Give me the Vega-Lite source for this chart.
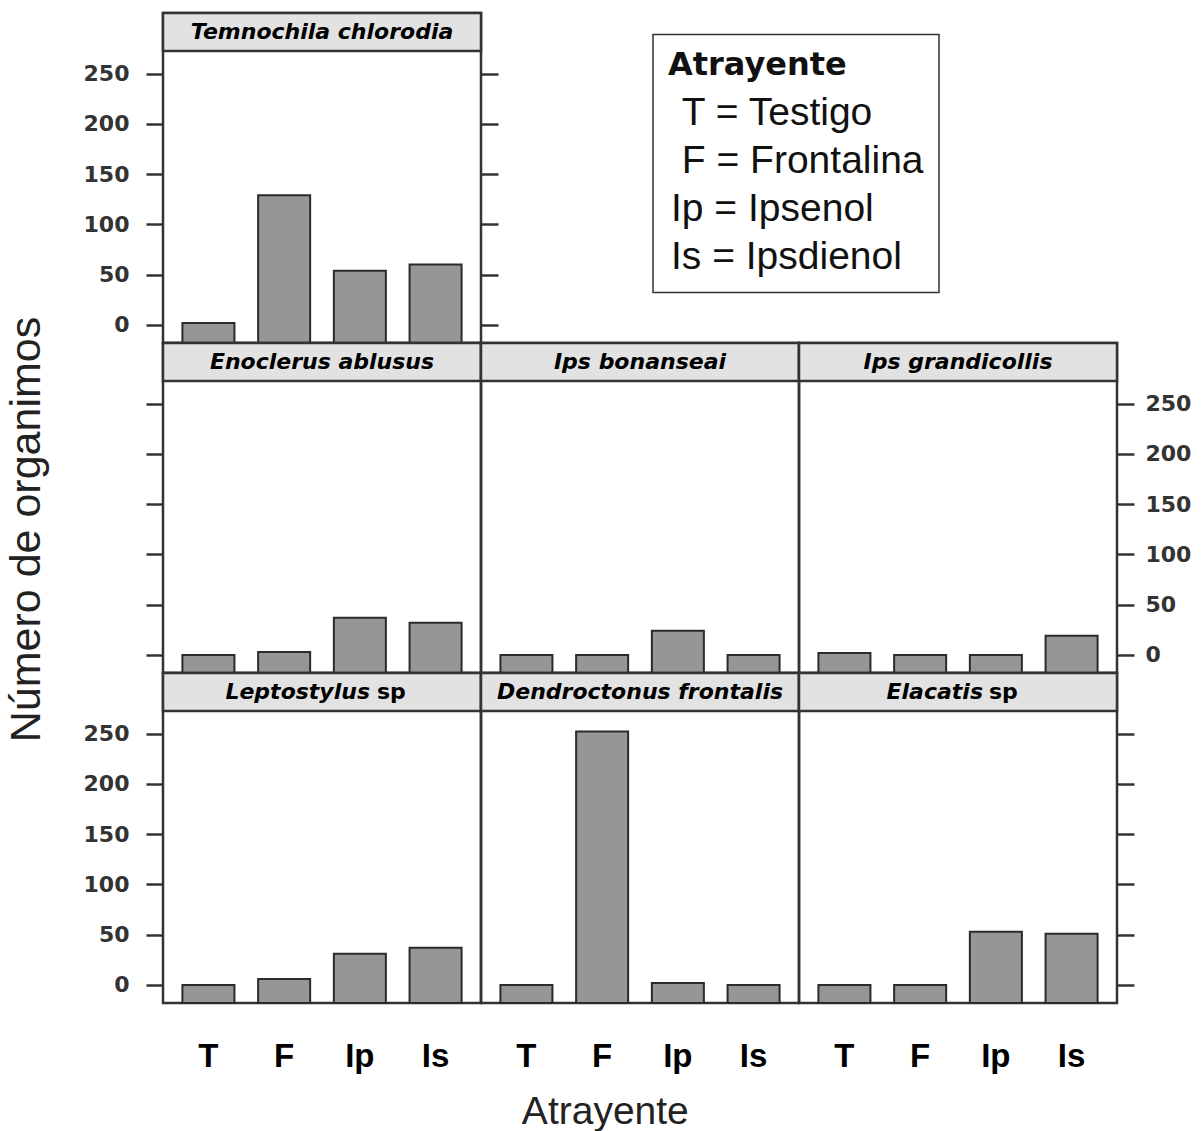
{
  "$schema": "https://vega.github.io/schema/vega-lite/v6.json",
  "background": "white",
  "padding": {"left": 4, "top": 10, "right": 5, "bottom": 5},
  "datasets": {
    "counts": [
      {"species": "Temnochila chlorodia", "atrayente": "T", "n": 2},
      {"species": "Temnochila chlorodia", "atrayente": "F", "n": 129},
      {"species": "Temnochila chlorodia", "atrayente": "Ip", "n": 54},
      {"species": "Temnochila chlorodia", "atrayente": "Is", "n": 60},
      {"species": "Enoclerus ablusus", "atrayente": "T", "n": 0},
      {"species": "Enoclerus ablusus", "atrayente": "F", "n": 3},
      {"species": "Enoclerus ablusus", "atrayente": "Ip", "n": 37},
      {"species": "Enoclerus ablusus", "atrayente": "Is", "n": 32},
      {"species": "Ips bonanseai", "atrayente": "T", "n": 0},
      {"species": "Ips bonanseai", "atrayente": "F", "n": 0},
      {"species": "Ips bonanseai", "atrayente": "Ip", "n": 24},
      {"species": "Ips bonanseai", "atrayente": "Is", "n": 0},
      {"species": "Ips grandicollis", "atrayente": "T", "n": 2},
      {"species": "Ips grandicollis", "atrayente": "F", "n": 0},
      {"species": "Ips grandicollis", "atrayente": "Ip", "n": 0},
      {"species": "Ips grandicollis", "atrayente": "Is", "n": 19},
      {"species": "Leptostylus sp", "atrayente": "T", "n": 0},
      {"species": "Leptostylus sp", "atrayente": "F", "n": 6},
      {"species": "Leptostylus sp", "atrayente": "Ip", "n": 31},
      {"species": "Leptostylus sp", "atrayente": "Is", "n": 37},
      {"species": "Dendroctonus frontalis", "atrayente": "T", "n": 0},
      {"species": "Dendroctonus frontalis", "atrayente": "F", "n": 252},
      {"species": "Dendroctonus frontalis", "atrayente": "Ip", "n": 2},
      {"species": "Dendroctonus frontalis", "atrayente": "Is", "n": 0},
      {"species": "Elacatis sp", "atrayente": "T", "n": 0},
      {"species": "Elacatis sp", "atrayente": "F", "n": 0},
      {"species": "Elacatis sp", "atrayente": "Ip", "n": 53},
      {"species": "Elacatis sp", "atrayente": "Is", "n": 51}
    ]
  },
  "title": {
    "text": "Atrayente",
    "orient": "bottom",
    "anchor": "middle",
    "font": "Liberation Sans",
    "fontSize": 39,
    "fontWeight": "normal",
    "color": "#222222",
    "offset": 19,
    "dx": 7
  },
  "columns": 3,
  "spacing": 0,
  "bounds": "flush",
  "concat": [
    {
      "width": 318, "height": 330,
      "view": {"stroke": "#333333", "strokeWidth": 2.5},
      "resolve": {"axis": {"y": "independent"}},
      "layer": [
        {
          "data": {"values": [{"species": "Temnochila chlorodia"}]},
          "mark": {"type": "rect", "fill": "#e2e2e2", "stroke": "#333333", "strokeWidth": 2.5},
          "encoding": {
            "y": {"datum": 272.5, "type": "quantitative", "scale": {"domain": [-18, 310.3], "nice": false, "zero": false},
                  "axis": {"orient": "right", "labels": false, "values": [0, 50, 100, 150, 200, 250], "title": null}},
            "y2": {"datum": 310.3}
          }
        },
        {
          "data": {"values": [{"species": "Temnochila chlorodia"}]},
          "mark": {"type": "text", "baseline": "middle", "font": "DejaVu Sans", "fontStyle": "italic", "fontWeight": "bold", "fontSize": 22, "color": "#000000"},
          "encoding": {
            "y": {"datum": 291.4, "type": "quantitative", "axis": null},
            "text": {"field": "species"}
          }
        },
        {
          "data": {"name": "counts"},
          "transform": [{"filter": "datum.species === 'Temnochila chlorodia'"}],
          "mark": {"type": "bar", "fill": "#969696", "stroke": "#2b2b2b", "strokeWidth": 2},
          "encoding": {
            "x": {"field": "atrayente", "type": "nominal", "sort": ["T", "F", "Ip", "Is"], "scale": {"paddingInner": 0.313, "paddingOuter": 0.2565}, "axis": null},
            "y": {"field": "n", "type": "quantitative", "axis": {"orient": "left", "values": [0, 50, 100, 150, 200, 250], "title": null}},
            "y2": {"datum": -18},
            "color": {
              "field": "atrayente", "type": "nominal", "sort": ["T", "F", "Ip", "Is"],
              "scale": {"range": ["#969696"]},
              "legend": {
                "orient": "none", "legendX": 490, "legendY": 21.6,
                "title": "Atrayente",
                "titleFont": "DejaVu Sans", "titleFontWeight": "bold", "titleFontSize": 32, "titleColor": "#111111", "titlePadding": 12, "titleLimit": 400,
                "labelFont": "Liberation Sans", "labelFontSize": 39, "labelColor": "#111111", "labelLimit": 400, "labelOffset": -36,
                "labelExpr": "datum.label === 'T' ? '\\u200b\\u00a0T = Testigo' : datum.label === 'F' ? '\\u200b\\u00a0F = Frontalina' : datum.label === 'Ip' ? 'Ip = Ipsenol' : 'Is = Ipsdienol'",
                "symbolSize": 0, "symbolOpacity": 0, "symbolStrokeWidth": 0,
                "rowPadding": 8,
                "padding": 15,
                "strokeColor": "#333333",
                "fillColor": "white"
              }
            }
          }
        }
      ]
    },
    {
      "width": 318, "height": 330,
      "data": {"values": [{}]},
      "view": {"stroke": null},
      "mark": {"type": "text", "text": ""},
      "encoding": {}
    },
    {
      "width": 318, "height": 330,
      "data": {"values": [{}]},
      "view": {"stroke": null},
      "mark": {"type": "text", "text": ""},
      "encoding": {}
    },
    {
      "width": 318, "height": 330,
      "view": {"stroke": "#333333", "strokeWidth": 2.5},
      "resolve": {"axis": {"y": "independent"}},
      "layer": [
        {
          "data": {"values": [{"species": "Enoclerus ablusus"}]},
          "mark": {"type": "rect", "fill": "#e2e2e2", "stroke": "#333333", "strokeWidth": 2.5},
          "encoding": {
            "y": {"datum": 272.5, "type": "quantitative", "scale": {"domain": [-18, 310.3], "nice": false, "zero": false}, "axis": null},
            "y2": {"datum": 310.3}
          }
        },
        {
          "data": {"values": [{"species": "Enoclerus ablusus"}]},
          "mark": {"type": "text", "baseline": "middle", "font": "DejaVu Sans", "fontStyle": "italic", "fontWeight": "bold", "fontSize": 22, "color": "#000000"},
          "encoding": {
            "y": {"datum": 291.4, "type": "quantitative", "axis": null},
            "text": {"field": "species"}
          }
        },
        {
          "data": {"name": "counts"},
          "transform": [{"filter": "datum.species === 'Enoclerus ablusus'"}],
          "mark": {"type": "bar", "fill": "#969696", "stroke": "#2b2b2b", "strokeWidth": 2},
          "encoding": {
            "x": {"field": "atrayente", "type": "nominal", "sort": ["T", "F", "Ip", "Is"], "scale": {"paddingInner": 0.313, "paddingOuter": 0.2565}, "axis": null},
            "y": {"field": "n", "type": "quantitative",
                  "axis": {"orient": "left", "labels": false, "values": [0, 50, 100, 150, 200, 250], "title": "Número de organimos", "titleFont": "Liberation Sans", "titleFontSize": 43, "titleFontWeight": "normal", "titleColor": "#222222", "titlePadding": 96, "titleY": 186}},
            "y2": {"datum": -18}
          }
        }
      ]
    },
    {
      "width": 318, "height": 330,
      "view": {"stroke": "#333333", "strokeWidth": 2.5},
      "resolve": {"axis": {"y": "independent"}},
      "layer": [
        {
          "data": {"values": [{"species": "Ips bonanseai"}]},
          "mark": {"type": "rect", "fill": "#e2e2e2", "stroke": "#333333", "strokeWidth": 2.5},
          "encoding": {
            "y": {"datum": 272.5, "type": "quantitative", "scale": {"domain": [-18, 310.3], "nice": false, "zero": false}, "axis": null},
            "y2": {"datum": 310.3}
          }
        },
        {
          "data": {"values": [{"species": "Ips bonanseai"}]},
          "mark": {"type": "text", "baseline": "middle", "font": "DejaVu Sans", "fontStyle": "italic", "fontWeight": "bold", "fontSize": 22, "color": "#000000"},
          "encoding": {
            "y": {"datum": 291.4, "type": "quantitative", "axis": null},
            "text": {"field": "species"}
          }
        },
        {
          "data": {"name": "counts"},
          "transform": [{"filter": "datum.species === 'Ips bonanseai'"}],
          "mark": {"type": "bar", "fill": "#969696", "stroke": "#2b2b2b", "strokeWidth": 2},
          "encoding": {
            "x": {"field": "atrayente", "type": "nominal", "sort": ["T", "F", "Ip", "Is"], "scale": {"paddingInner": 0.313, "paddingOuter": 0.2565}, "axis": null},
            "y": {"field": "n", "type": "quantitative", "axis": null},
            "y2": {"datum": -18}
          }
        }
      ]
    },
    {
      "width": 318, "height": 330,
      "view": {"stroke": "#333333", "strokeWidth": 2.5},
      "resolve": {"axis": {"y": "independent"}},
      "layer": [
        {
          "data": {"values": [{"species": "Ips grandicollis"}]},
          "mark": {"type": "rect", "fill": "#e2e2e2", "stroke": "#333333", "strokeWidth": 2.5},
          "encoding": {
            "y": {"datum": 272.5, "type": "quantitative", "scale": {"domain": [-18, 310.3], "nice": false, "zero": false}, "axis": null},
            "y2": {"datum": 310.3}
          }
        },
        {
          "data": {"values": [{"species": "Ips grandicollis"}]},
          "mark": {"type": "text", "baseline": "middle", "font": "DejaVu Sans", "fontStyle": "italic", "fontWeight": "bold", "fontSize": 22, "color": "#000000"},
          "encoding": {
            "y": {"datum": 291.4, "type": "quantitative", "axis": null},
            "text": {"field": "species"}
          }
        },
        {
          "data": {"name": "counts"},
          "transform": [{"filter": "datum.species === 'Ips grandicollis'"}],
          "mark": {"type": "bar", "fill": "#969696", "stroke": "#2b2b2b", "strokeWidth": 2},
          "encoding": {
            "x": {"field": "atrayente", "type": "nominal", "sort": ["T", "F", "Ip", "Is"], "scale": {"paddingInner": 0.313, "paddingOuter": 0.2565}, "axis": null},
            "y": {"field": "n", "type": "quantitative", "axis": {"orient": "right", "labelPadding": 11, "values": [0, 50, 100, 150, 200, 250], "title": null}},
            "y2": {"datum": -18}
          }
        }
      ]
    },
    {
      "width": 318, "height": 330,
      "view": {"stroke": "#333333", "strokeWidth": 2.5},
      "resolve": {"axis": {"y": "independent"}},
      "layer": [
        {
          "data": {"values": [{"genus": "Leptostylus", "suffix": "sp"}]},
          "mark": {"type": "rect", "fill": "#e2e2e2", "stroke": "#333333", "strokeWidth": 2.5},
          "encoding": {
            "y": {"datum": 272.5, "type": "quantitative", "scale": {"domain": [-18, 310.3], "nice": false, "zero": false}, "axis": null},
            "y2": {"datum": 310.3}
          }
        },
        {
          "data": {"values": [{"genus": "Leptostylus", "suffix": "sp"}]},
          "mark": {"type": "text", "align": "right", "dx": 48, "baseline": "middle", "font": "DejaVu Sans", "fontStyle": "italic", "fontWeight": "bold", "fontSize": 22, "color": "#000000"},
          "encoding": {
            "y": {"datum": 291.4, "type": "quantitative", "axis": null},
            "text": {"field": "genus"}
          }
        },
        {
          "data": {"values": [{"genus": "Leptostylus", "suffix": "sp"}]},
          "mark": {"type": "text", "align": "left", "dx": 55, "baseline": "middle", "font": "DejaVu Sans", "fontStyle": "normal", "fontWeight": "bold", "fontSize": 22, "color": "#000000"},
          "encoding": {
            "y": {"datum": 291.4, "type": "quantitative", "axis": null},
            "text": {"field": "suffix"}
          }
        },
        {
          "data": {"name": "counts"},
          "transform": [{"filter": "datum.species === 'Leptostylus sp'"}],
          "mark": {"type": "bar", "fill": "#969696", "stroke": "#2b2b2b", "strokeWidth": 2},
          "encoding": {
            "x": {"field": "atrayente", "type": "nominal", "sort": ["T", "F", "Ip", "Is"], "scale": {"paddingInner": 0.313, "paddingOuter": 0.2565},
                  "axis": {"orient": "bottom", "ticks": false, "domain": false, "labelAngle": 0, "labelFont": "Liberation Sans Narrow, Liberation Sans", "labelFontWeight": "bold", "labelFontSize": 33, "labelColor": "#000000", "labelPadding": 37, "title": null}},
            "y": {"field": "n", "type": "quantitative", "axis": {"orient": "left", "values": [0, 50, 100, 150, 200, 250], "title": null}},
            "y2": {"datum": -18}
          }
        }
      ]
    },
    {
      "width": 318, "height": 330,
      "view": {"stroke": "#333333", "strokeWidth": 2.5},
      "resolve": {"axis": {"y": "independent"}},
      "layer": [
        {
          "data": {"values": [{"species": "Dendroctonus frontalis"}]},
          "mark": {"type": "rect", "fill": "#e2e2e2", "stroke": "#333333", "strokeWidth": 2.5},
          "encoding": {
            "y": {"datum": 272.5, "type": "quantitative", "scale": {"domain": [-18, 310.3], "nice": false, "zero": false}, "axis": null},
            "y2": {"datum": 310.3}
          }
        },
        {
          "data": {"values": [{"species": "Dendroctonus frontalis"}]},
          "mark": {"type": "text", "baseline": "middle", "font": "DejaVu Sans", "fontStyle": "italic", "fontWeight": "bold", "fontSize": 22, "color": "#000000"},
          "encoding": {
            "y": {"datum": 291.4, "type": "quantitative", "axis": null},
            "text": {"field": "species"}
          }
        },
        {
          "data": {"name": "counts"},
          "transform": [{"filter": "datum.species === 'Dendroctonus frontalis'"}],
          "mark": {"type": "bar", "fill": "#969696", "stroke": "#2b2b2b", "strokeWidth": 2},
          "encoding": {
            "x": {"field": "atrayente", "type": "nominal", "sort": ["T", "F", "Ip", "Is"], "scale": {"paddingInner": 0.313, "paddingOuter": 0.2565},
                  "axis": {"orient": "bottom", "ticks": false, "domain": false, "labelAngle": 0, "labelFont": "Liberation Sans Narrow, Liberation Sans", "labelFontWeight": "bold", "labelFontSize": 33, "labelColor": "#000000", "labelPadding": 37, "title": null}},
            "y": {"field": "n", "type": "quantitative", "axis": null},
            "y2": {"datum": -18}
          }
        }
      ]
    },
    {
      "width": 318, "height": 330,
      "view": {"stroke": "#333333", "strokeWidth": 2.5},
      "resolve": {"axis": {"y": "independent"}},
      "layer": [
        {
          "data": {"values": [{"genus": "Elacatis", "suffix": "sp"}]},
          "mark": {"type": "rect", "fill": "#e2e2e2", "stroke": "#333333", "strokeWidth": 2.5},
          "encoding": {
            "y": {"datum": 272.5, "type": "quantitative", "scale": {"domain": [-18, 310.3], "nice": false, "zero": false}, "axis": null},
            "y2": {"datum": 310.3}
          }
        },
        {
          "data": {"values": [{"genus": "Elacatis", "suffix": "sp"}]},
          "mark": {"type": "text", "align": "right", "dx": 25, "baseline": "middle", "font": "DejaVu Sans", "fontStyle": "italic", "fontWeight": "bold", "fontSize": 22, "color": "#000000"},
          "encoding": {
            "y": {"datum": 291.4, "type": "quantitative", "axis": null},
            "text": {"field": "genus"}
          }
        },
        {
          "data": {"values": [{"genus": "Elacatis", "suffix": "sp"}]},
          "mark": {"type": "text", "align": "left", "dx": 31, "baseline": "middle", "font": "DejaVu Sans", "fontStyle": "normal", "fontWeight": "bold", "fontSize": 22, "color": "#000000"},
          "encoding": {
            "y": {"datum": 291.4, "type": "quantitative", "axis": null},
            "text": {"field": "suffix"}
          }
        },
        {
          "data": {"name": "counts"},
          "transform": [{"filter": "datum.species === 'Elacatis sp'"}],
          "mark": {"type": "bar", "fill": "#969696", "stroke": "#2b2b2b", "strokeWidth": 2},
          "encoding": {
            "x": {"field": "atrayente", "type": "nominal", "sort": ["T", "F", "Ip", "Is"], "scale": {"paddingInner": 0.313, "paddingOuter": 0.2565},
                  "axis": {"orient": "bottom", "ticks": false, "domain": false, "labelAngle": 0, "labelFont": "Liberation Sans Narrow, Liberation Sans", "labelFontWeight": "bold", "labelFontSize": 33, "labelColor": "#000000", "labelPadding": 37, "title": null}},
            "y": {"field": "n", "type": "quantitative", "axis": {"orient": "right", "labels": false, "values": [0, 50, 100, 150, 200, 250], "title": null}},
            "y2": {"datum": -18}
          }
        }
      ]
    }
  ],
  "config": {
    "font": "Liberation Sans",
    "axisY": {
      "domain": false,
      "grid": false,
      "tickSize": 17,
      "tickWidth": 2.5,
      "tickColor": "#333333",
      "labelFont": "DejaVu Sans",
      "labelFontWeight": "bold",
      "labelFontSize": 22,
      "labelColor": "#333333",
      "labelPadding": 17
    },
    "axisX": {"grid": false},
    "legend": {"strokeWidth": 1.5}
  }
}
